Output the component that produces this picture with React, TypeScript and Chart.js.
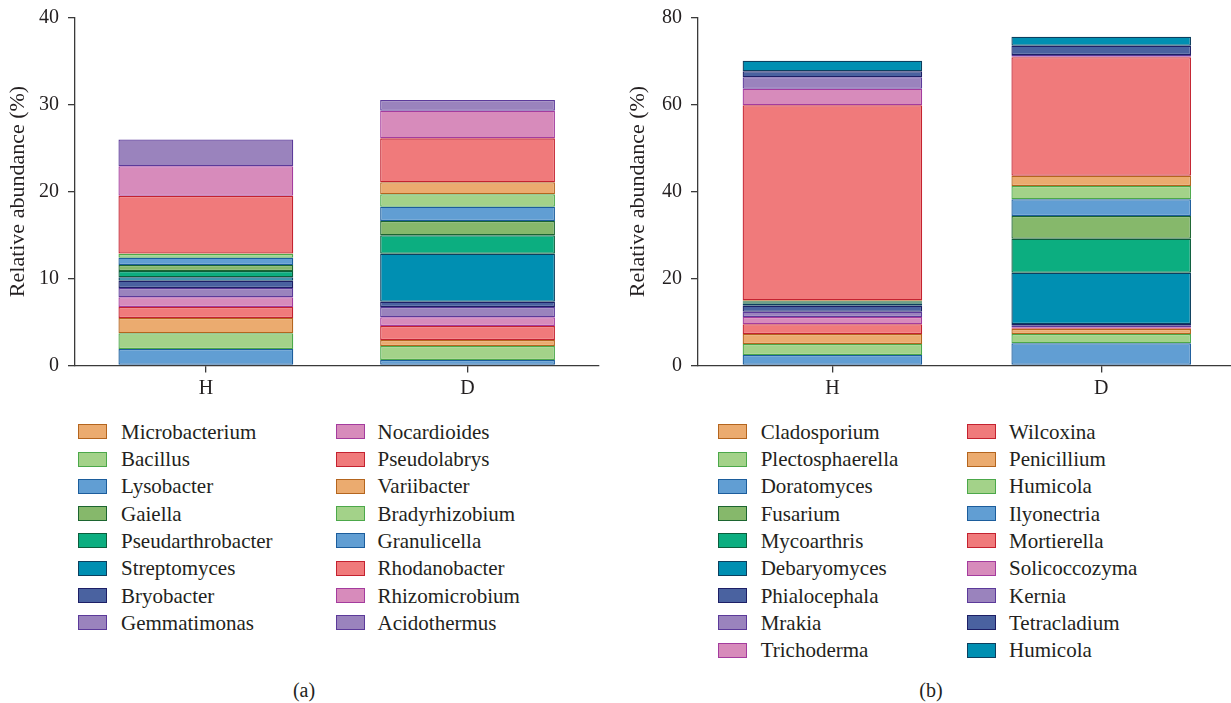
import React, { useEffect, useRef } from "react";
import { Chart, registerables } from "chart.js";

Chart.register(...registerables);

// ---------- data ----------
const categories = ["H", "D"];

// bacteria (a) — stack order, bottom to top
const bacteriaNames = [
  "Granulicella", "Bradyrhizobium", "Variibacter", "Pseudolabrys", "Nocardioides",
  "Gemmatimonas", "Bryobacter", "Streptomyces", "Pseudarthrobacter", "Gaiella",
  "Lysobacter", "Bacillus", "Microbacterium", "Rhodanobacter", "Rhizomicrobium", "Acidothermus",
];
const bacteriaH = [1.9, 1.8, 1.76, 1.26, 1.12, 1.07, 0.84, 0.39, 0.72, 0.69, 0.84, 0.43, 0.05, 6.63, 3.4, 3.07];
const bacteriaD = [0.63, 1.61, 0.69, 1.61, 1.0, 1.18, 0.61, 5.52, 2.12, 1.64, 1.64, 1.43, 1.38, 5.05, 3.18, 1.23];
const bacteriaLegendCol1 = [12, 11, 10, 9, 8, 7, 6, 5];
const bacteriaLegendCol2 = [4, 3, 2, 1, 0, 13, 14, 15];
const bacteriaTicks = [0, 10, 20, 30, 40];

// fungi (b) — stack order, bottom to top
const fungiNames = [
  "Ilyonectria", "Humicola", "Penicillium", "Wilcoxina", "Trichoderma", "Mrakia",
  "Phialocephala", "Debaryomyces", "Mycoarthris", "Fusarium", "Doratomyces",
  "Plectosphaerella", "Cladosporium", "Mortierella", "Solicoccozyma", "Kernia",
  "Tetracladium", "Humicola",
];
const fungiH = [2.41, 2.53, 2.3, 2.23, 1.68, 1.22, 1.38, 0.46, 0.32, 0.23, 0.04, 0.05, 0.15, 44.82, 3.81, 2.62, 1.38, 2.44];
const fungiD = [5.1, 2.14, 1.15, 0.16, 0.23, 0.37, 0.39, 11.79, 7.82, 5.22, 3.84, 3.05, 2.37, 27.22, 0.25, 0.28, 2.14, 2.07];
const fungiLegendCol1 = [12, 11, 10, 9, 8, 7, 6, 5, 4];
const fungiLegendCol2 = [3, 2, 1, 0, 13, 14, 15, 16, 17];
const fungiTicks = [0, 20, 40, 60, 80];

// ---------- styles ----------
const colorKeys = [
  "blue", "lgreen", "orange", "red", "pink", "purple", "dblue", "tblue", "tgreen", "olive",
  "blue", "lgreen", "orange", "red", "pink", "purple", "dblue", "tblue",
];
const palette: Record<string, { fill: string; border: string }> = {
  blue: { fill: "#619ED3", border: "#1C5D9C" },
  lgreen: { fill: "#A3D289", border: "#4CA84A" },
  orange: { fill: "#EBAB6F", border: "#B4651E" },
  red: { fill: "#F07A7B", border: "#C42230" },
  pink: { fill: "#D78BBB", border: "#A43C9E" },
  purple: { fill: "#9A83BD", border: "#5C3A9A" },
  dblue: { fill: "#4A62A0", border: "#1D1F66" },
  tblue: { fill: "#008FB2", border: "#0C3F5E" },
  tgreen: { fill: "#0CAE80", border: "#0B5E3C" },
  olive: { fill: "#86B86B", border: "#1C6530" },
};

const FONT = '"Liberation Serif", "Times New Roman", serif';
const TEXT = "#231F20";
const AXIS = "#3A3A3A";

function makeConfig(
  names: string[], hVals: number[], dVals: number[], ticks: number[],
  yWidth: number, rightPad: number
): any {
  const yMax = ticks[ticks.length - 1];
  const step = ticks[1] - ticks[0];
  return {
    type: "bar",
    data: {
      labels: categories,
      datasets: names.map((n, i) => ({
        label: n,
        data: [hVals[i], dVals[i]],
        backgroundColor: palette[colorKeys[i]].fill,
        borderColor: palette[colorKeys[i]].border,
        borderWidth: 1.3,
        borderSkipped: false,
        categoryPercentage: 1,
        barPercentage: 0.668,
      })),
    },
    options: {
      animation: false,
      responsive: false,
      maintainAspectRatio: false,
      layout: { padding: { top: 17.5, right: rightPad, left: 0, bottom: 0 } },
      plugins: { legend: { display: false }, tooltip: { enabled: false } },
      scales: {
        x: {
          stacked: true,
          offset: true,
          grid: { display: true, drawOnChartArea: false, offset: false, tickLength: 7, color: AXIS, lineWidth: 1.3 },
          border: { display: true, color: AXIS, width: 1.3 },
          ticks: { font: { family: FONT, size: 20 }, color: TEXT, padding: 4 },
          afterFit: (s: any) => {
            s.height = 44.5;
            s.paddingLeft = 0;
            s.paddingRight = 0;
          },
        },
        y: {
          stacked: true,
          min: 0,
          max: yMax,
          grid: { display: true, drawOnChartArea: false, tickLength: 7, color: AXIS, lineWidth: 1.3 },
          border: { display: true, color: AXIS, width: 1.3 },
          ticks: { stepSize: step, font: { family: FONT, size: 20 }, color: TEXT, padding: 9 },
          title: {
            display: true,
            text: "Relative abundance (%)",
            font: { family: FONT, size: 22 },
            color: TEXT,
            padding: { top: 5, bottom: 0 },
          },
          afterFit: (s: any) => {
            s.width = yWidth;
            s.paddingTop = 0;
            s.paddingBottom = 0;
          },
        },
      },
    },
  };
}

function Panel(props: { left: number; width: number; height: number; config: any }) {
  const ref = useRef<HTMLCanvasElement>(null);
  useEffect(() => {
    const chart = new Chart(ref.current as HTMLCanvasElement, props.config);
    return () => chart.destroy();
  }, []);
  return (
    <canvas
      ref={ref}
      width={props.width}
      height={props.height}
      style={{ position: "absolute", left: props.left, top: 0, width: props.width, height: props.height }}
    />
  );
}

function LegendColumn(props: { names: string[]; order: number[]; boxLeft: number; textLeft: number }) {
  return (
    <>
      {props.order.map((idx, r) => {
        const cy = 431.7 + 27.3 * r;
        const c = palette[colorKeys[idx]];
        return (
          <React.Fragment key={r}>
            <div
              style={{
                position: "absolute",
                left: props.boxLeft,
                top: cy - 7.5,
                width: 29,
                height: 15,
                boxSizing: "border-box",
                background: c.fill,
                border: `1.5px solid ${c.border}`,
              }}
            />
            <div
              style={{
                position: "absolute",
                left: props.textLeft,
                top: cy - 13,
                height: 26,
                lineHeight: "26px",
                fontFamily: FONT,
                fontSize: 21,
                color: TEXT,
                whiteSpace: "nowrap",
              }}
            >
              {props.names[idx]}
            </div>
          </React.Fragment>
        );
      })}
    </>
  );
}

export default function App() {
  const cfgA = makeConfig(bacteriaNames, bacteriaH, bacteriaD, bacteriaTicks, 75, 16.6);
  const cfgB = makeConfig(fungiNames, fungiH, fungiD, fungiTicks, 78, 4.4);
  const caption = (text: string, cx: number) => (
    <div
      style={{
        position: "absolute",
        left: cx - 30,
        width: 60,
        top: 677,
        textAlign: "center",
        fontFamily: FONT,
        fontSize: 20,
        color: TEXT,
        lineHeight: "26px",
      }}
    >
      {text}
    </div>
  );
  return (
    <div
      style={{
        position: "absolute",
        left: 0,
        top: 0,
        width: 1231,
        height: 703,
        overflow: "hidden",
        background: "#fff",
      }}
    >
      <Panel left={0} width={615} height={410} config={cfgA} />
      <Panel left={620} width={620} height={410} config={cfgB} />
      <LegendColumn names={bacteriaNames} order={bacteriaLegendCol1} boxLeft={78} textLeft={121} />
      <LegendColumn names={bacteriaNames} order={bacteriaLegendCol2} boxLeft={335.5} textLeft={377.5} />
      <LegendColumn names={fungiNames} order={fungiLegendCol1} boxLeft={717.6} textLeft={760.7} />
      <LegendColumn names={fungiNames} order={fungiLegendCol2} boxLeft={966.6} textLeft={1009} />
      {caption("(a)", 304)}
      {caption("(b)", 931)}
    </div>
  );
}
